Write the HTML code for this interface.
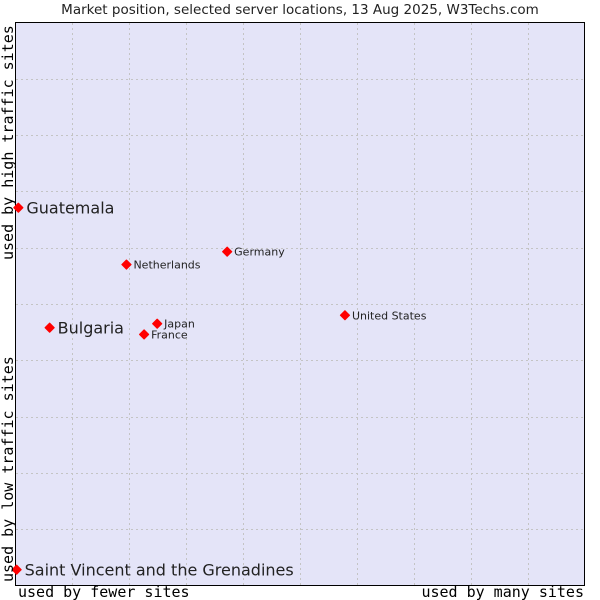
<!DOCTYPE html>
<html><head><meta charset="utf-8"><style>
body{margin:0;background:#fff}
svg{display:block}
</style></head><body>
<svg id="chart" width="600" height="600" xmlns="http://www.w3.org/2000/svg">
<rect x="0" y="0" width="600" height="600" fill="#fff"/>
<text x="300" y="14" text-anchor="middle" font-family="DejaVu Sans, sans-serif" font-size="13.5" fill="#222">Market position, selected server locations, 13 Aug 2025, W3Techs.com</text>
<rect x="15.5" y="22.5" width="569" height="563" fill="#e4e4f8" stroke="#000" stroke-width="1"/>
<g id="grid"></g>
<g id="points"></g>
<text x="18" y="597" font-family="DejaVu Sans Mono, monospace" font-size="15" fill="#000">used by fewer sites</text>
<text x="584" y="597" text-anchor="end" font-family="DejaVu Sans Mono, monospace" font-size="15" fill="#000">used by many sites</text>
<text transform="translate(13,260) rotate(-90)" font-family="DejaVu Sans Mono, monospace" font-size="15" fill="#000">used by high traffic sites</text>
<text transform="translate(13,582) rotate(-90)" font-family="DejaVu Sans Mono, monospace" font-size="15" fill="#000">used by low traffic sites</text>
</svg>
<script>
const names = ["Guatemala","Bulgaria","Netherlands","Germany","United States","Japan","France","Saint Vincent and the Grenadines"];
const xValues = [0.5, 6.0, 19.5, 37.2, 57.9, 24.9, 22.6, 0.2];
const yValues = [67.1, 45.8, 57.0, 59.3, 48.0, 46.5, 44.6, 2.8];
const bigLabel = [true, true, false, false, false, false, false, true];

const X0=15.5, X1=584.5, Y0=585.5, Y1=22.5;
function xs(v){return X0+(X1-X0)*v/100;}
function ys(v){return Y0-(Y0-Y1)*v/100;}
const NS="http://www.w3.org/2000/svg";
const grid=document.getElementById('grid');
for(let i=1;i<10;i++){
  const x=Math.round(xs(i*10))+0.5;
  const l=document.createElementNS(NS,'line');
  l.setAttribute('x1',x);l.setAttribute('x2',x);l.setAttribute('y1',23);l.setAttribute('y2',585);
  l.setAttribute('stroke','#c4c4c4');l.setAttribute('stroke-dasharray','2,3');
  
  
  grid.appendChild(l);
  const y=Math.round(ys(i*10))+0.5;
  const h=document.createElementNS(NS,'line');
  h.setAttribute('x1',16);h.setAttribute('x2',584);h.setAttribute('y1',y);h.setAttribute('y2',y);
  h.setAttribute('stroke','#c4c4c4');h.setAttribute('stroke-dasharray','2,3');
  
  
  grid.appendChild(h);
}
const pts=document.getElementById('points');
names.forEach((n,i)=>{
  const cx=xs(xValues[i]), cy=ys(yValues[i]);
  const c=document.createElementNS(NS,'path');
  c.setAttribute('d',`M${cx} ${cy-4.5} L${cx+4.5} ${cy} L${cx} ${cy+4.5} L${cx-4.5} ${cy} Z`);
  c.setAttribute('fill','#f00');c.setAttribute('stroke','#f00');c.setAttribute('stroke-width','1.2');c.setAttribute('stroke-linejoin','round');
  
  
  pts.appendChild(c);
  const t=document.createElementNS(NS,'text');
  t.setAttribute('x',cx+(bigLabel[i]?8:7));
  t.setAttribute('y',cy+(bigLabel[i]?6:4));
  t.setAttribute('font-family','DejaVu Sans, sans-serif');
  t.setAttribute('font-size',bigLabel[i]?'16':'11');
  t.setAttribute('fill','#222');
  t.textContent=n;
  
  
  pts.appendChild(t);
});
</script>
</body></html>
